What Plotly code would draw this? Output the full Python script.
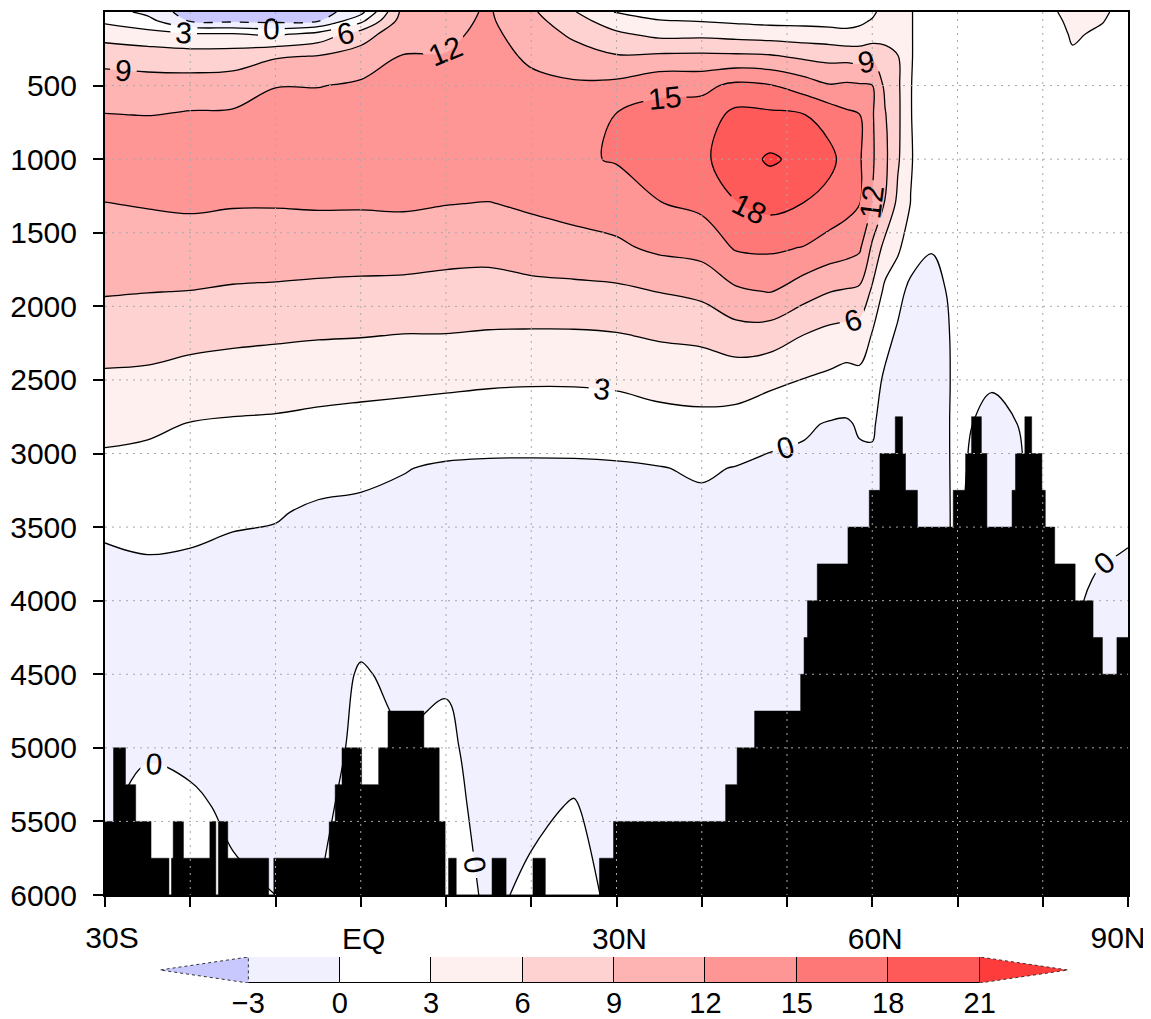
import numpy as np
import plotly.graph_objects as go

# ---------------- data ----------------
lats = [-30, -25, -20, -15, -10, -5, 0, 5, 10, 15, 20, 25, 30, 35, 40, 44, 48, 52,
        55, 57, 58.5, 60, 61.5, 63, 64.5, 67, 70, 74, 80, 83.5, 87, 90]
depths = [0, 60, 150, 300, 500, 700, 1000, 1300, 1600, 1900, 2200, 2500, 2800,
          3100, 3400, 3700, 4000, 4500, 5000, 5400, 6000]

# streamfunction profiles (Sv) at each latitude, values at `depths`
psi_30s = [1.5, 2.5, 4.7, 8.0, 10.3, 12.1, 13.8, 11.95, 10.6, 9.2, 7.4, 5.5, 3.8, 2.3, 0.9, -0.4, -0.9, -1.1, -0.8, -0.4, 0.0]
psi_25s = [-0.8, 1.0, 4.0, 7.6, 10.2, 11.95, 13.8, 12.2, 10.6, 9.05, 7.2, 5.4, 3.5, 2.1, 1.1, -0.05, -0.8, -1.1, -0.3, 0.8, 1.0]
psi_20s = [-4.5, -3.3, 3.4, 7.3, 10.3, 12.3, 14.0, 12.4, 10.7, 8.95, 6.9, 4.8, 2.9, 1.9, 0.85, -0.2, -0.8, -1.1, -0.4, 0.3, 1.0]
psi_15s = [-4.8, -3.6, 3.2, 7.5, 10.5, 12.4, 14.0, 12.2, 10.5, 8.7, 6.6, 4.5, 2.7, 1.5, 0.4, -0.5, -0.9, -1.1, -0.9, -0.3, 0.3]
psi_10s = [-5.0, -3.8, 2.5, 8.7, 11.9, 13.2, 14.2, 12.2, 10.4, 8.6, 6.4, 4.3, 2.6, 1.4, 0.2, -0.6, -1.0, -1.1, -0.9, -0.4, 0.0]
psi_05s = [-4.5, -3.2, 4.0, 9.1, 11.9, 13.3, 14.3, 12.3, 10.4, 8.4, 6.2, 4.1, 2.3, 1.0, -0.4, -0.8, -1.0, -1.1, -0.9, -0.5, 0.0]
psi_eq = [-1.0, 2.2, 7.5, 10.4, 12.4, 13.4, 14.3, 12.3, 10.3, 8.3, 6.1, 3.9, 2.1, 0.6, -0.5, -0.9, -1.0, 0.2, 0.5, 0.8, 1.0]
psi_05n = [10.0, 10.5, 11.2, 12.1, 13.0, 13.6, 14.4, 12.4, 10.3, 8.2, 5.9, 3.8, 1.8, 0.1, -0.6, -1.0, -1.1, -0.5, 0.2, 0.5, 1.0]
psi_10n = [11.0, 11.2, 11.5, 12.1, 13.0, 13.7, 14.4, 12.1, 10.0, 8.0, 5.9, 3.6, 1.6, -0.3, -0.8, -1.0, -1.1, -0.2, 0.4, 0.6, 1.0]
psi_15n = [12.3, 12.4, 12.6, 12.9, 13.4, 13.9, 14.5, 11.9, 9.9, 7.9, 5.7, 3.4, 1.4, -0.4, -0.8, -1.0, -1.1, -1.1, -0.9, -0.6, -0.3]
psi_20n = [9.5, 10.0, 10.8, 11.6, 12.6, 13.4, 14.3, 12.5, 10.4, 8.2, 5.6, 3.3, 1.3, -0.4, -0.8, -1.0, -1.1, -1.1, -0.9, -0.3, 0.3]
psi_25n = [6.2, 7.2, 8.4, 10.4, 12.4, 13.5, 14.6, 13.2, 10.8, 8.3, 5.6, 3.3, 1.4, -0.4, -0.8, -1.0, -1.1, -1.1, -0.6, 0.1, 0.8]
psi_30n = [2.8, 4.4, 6.5, 9.2, 12.8, 15.1, 15.2, 13.5, 11.5, 8.4, 5.8, 3.5, 1.5, -0.3, -0.8, -1.0, -1.1, -1.1, -1.0, -0.7, -0.5]
psi_35n = [1.5, 3.2, 5.2, 9.5, 14.25, 16.0, 16.8, 14.9, 12.6, 9.05, 6.3, 4.05, 1.95, -0.1, -0.7, -1.0, -1.1, -1.1, -1.0, -0.7, -0.5]
psi_40n = [1.2, 2.85, 5.25, 9.6, 14.25, 16.4, 17.4, 15.7, 13.1, 9.7, 6.6, 4.25, 2.2, 0.3, -0.6, -1.0, -1.1, -1.1, -1.0, -0.8, -0.5]
psi_44n = [0.8, 2.5, 4.9, 9.5, 15.7, 18.8, 19.6, 17.9, 15.3, 11.5, 7.6, 4.3, 1.95, -0.1, -0.7, -1.0, -1.1, -1.1, -1.0, -0.8, -0.5]
psi_48n = [0.5, 2.2, 4.6, 9.3, 15.2, 18.6, 21.4, 18.9, 15.5, 12.1, 7.4, 3.7, 0.9, -0.5, -0.9, -1.0, -1.1, -1.1, -1.0, -0.8, -0.5]
psi_52n = [0.5, 2.1, 4.4, 8.4, 13.6, 18.1, 20.2, 17.95, 14.9, 10.2, 5.9, 2.9, 0.35, -0.6, -0.9, -1.0, -1.1, -1.1, -1.0, -0.8, -0.5]
psi_55n = [0.8, 1.9, 4.2, 8.0, 12.2, 16.8, 18.8, 16.9, 13.75, 9.05, 5.0, 2.4, -0.2, -0.7, -0.9, -1.0, -1.1, -1.1, -1.0, -0.8, -0.5]
psi_57n = [1.5, 2.2, 3.6, 8.0, 12.5, 15.6, 16.8, 16.0, 13.2, 8.7, 4.7, 1.9, -0.3, -0.8, -0.9, -1.0, -1.1, -1.1, -1.0, -0.8, -0.5]
psi_58n = [1.8, 2.5, 3.8, 7.8, 12.3, 15.1, 15.4, 15.1, 12.5, 8.4, 4.4, 2.3, 0.3, -0.6, -0.8, -1.0, -1.1, -1.1, -1.0, -0.8, -0.5]
psi_60n = [2.5, 3.2, 4.2, 8.5, 12.05, 12.3, 12.4, 11.9, 8.5, 5.5, 2.8, 0.8, 0.2, -0.3, -0.6, -0.8, -1.0, -1.0, -1.0, -0.8, -0.5]
psi_61n = [4.0, 4.2, 4.5, 7.5, 8.4, 9.2, 9.6, 8.9, 5.0, 2.3, 0.6, -0.3, -0.6, -0.5, -0.5, -0.5, -0.5, -0.5, -0.5, -0.5, -0.5]
psi_63n = [4.0, 4.2, 4.5, 6.1, 6.5, 6.6, 6.4, 5.3, 3.6, 0.6, -0.3, -0.6, -0.6, -0.5, -0.5, -0.5, -0.5, -0.5, -0.5, -0.5, -0.5]
psi_64n = [3.2, 3.2, 3.2, 3.2, 3.1, 3.1, 3.2, 2.95, 1.0, -0.5, -0.7, -0.8, -0.7, -0.5, -0.5, -0.5, -0.5, -0.5, -0.5, -0.5, -0.5]
psi_67n = [1.0, 1.0, 1.0, 1.0, 1.0, 1.0, 1.0, 0.8, 0.1, -0.6, -0.9, -1.0, -0.9, -0.7, -0.5, -0.5, -0.5, -0.5, -0.5, -0.5, -0.5]
psi_70n = [1.0, 1.0, 1.0, 1.0, 1.0, 1.0, 1.0, 0.9, 0.8, 0.5, 0.4, 0.4, 0.4, 0.3, 0.2, 0.2, 0.2, 0.2, 0.2, 0.2, 0.2]
psi_74n = [1.0, 1.0, 1.0, 1.0, 1.0, 1.0, 1.0, 0.9, 0.8, 0.7, 0.6, 0.2, -0.5, -0.8, -0.8, -0.8, -0.8, -0.8, -0.8, -0.8, -0.8]
psi_80n = [2.0, 1.6, 1.3, 1.1, 1.0, 1.0, 1.0, 0.9, 0.8, 0.7, 0.7, 0.6, 0.5, 0.5, 0.5, 0.4, 0.3, 0.3, 0.3, 0.3, 0.3]
psi_83n = [4.0, 3.7, 3.3, 2.7, 2.0, 1.5, 1.2, 1.0, 0.9, 0.8, 0.7, 0.6, 0.5, 0.5, 0.5, 0.4, 0.3, 0.2, 0.2, 0.2, 0.2]
psi_87n = [3.4, 3.1, 2.6, 2.0, 1.5, 1.2, 1.0, 0.9, 0.8, 0.7, 0.6, 0.6, 0.5, 0.5, 0.5, 0.1, -0.5, -0.8, -0.8, -0.8, -0.8]
psi_90n = [2.0, 1.9, 1.7, 1.5, 1.3, 1.1, 1.0, 0.9, 0.8, 0.7, 0.6, 0.6, 0.5, 0.5, 0.4, -0.1, -0.5, -0.8, -0.8, -0.8, -0.8]

# bathymetry: step starts (latitude) and sea-floor depth of each step
bathy_lat = [-30.0, -29.0, -27.6, -26.4, -24.6, -22.5, -22.2, -22.0, -20.8, -17.7,
             -17.0, -16.7, -15.6, -10.8, -10.2, -3.7, -3.0, -2.2, 0.1, 2.1,
             3.2, 7.4, 9.2, 9.9, 10.3, 11.2, 15.4, 17.05, 20.2, 21.65,
             28.0, 29.65, 42.8, 44.15, 46.2, 51.6, 52.0, 52.4, 53.55, 57.15,
             59.65, 60.9, 62.7, 63.55, 63.9, 65.3, 69.5, 70.95, 71.65, 72.8,
             73.45, 76.4, 76.8, 77.9, 78.7, 79.9, 80.3, 81.4, 83.8, 85.9,
             87.0, 88.7]
bathy_depth = [5500, 5000, 5250, 5500, 5750, 6000, 5750, 5500, 5750, 5500,
               6000, 5500, 5750, 6000, 5750, 5500, 5250, 5000, 5250, 5000,
               4750, 5000, 5500, 6000, 5750, 6000, 5750, 6000, 5750, 6000,
               5750, 5500, 5250, 5000, 4750, 4500, 4250, 4000, 3750, 3500,
               3250, 3000, 2750, 3000, 3250, 3500, 3250, 3000, 2750, 3000,
               3500, 3250, 3000, 2750, 3000, 3250, 3500, 3750, 4000, 4250,
               4500, 4250]
bathy_end_lat = 90.0

# contour levels / colours
levels = [-3, 0, 3, 6, 9, 12, 15, 18, 21]
level_labels = ["\u22123", "0", "3", "6", "9", "12", "15", "18", "21"]
fill_colors = ["#c8c8ff", "#f0f0ff", "#ffffff", "#fff0f0", "#ffd2d2",
               "#ffb4b4", "#ff9696", "#ff7878", "#ff5a5a", "#ff3c3c"]

x_ticks = [-30, -20, -10, 0, 10, 20, 30, 40, 50, 60, 70, 80, 90]
x_ticklabels = ["", "", "", "EQ", "", "", "30N", "", "", "60N", "", "", ""]
x_edge_ticks = [-30, 90]
x_edge_labels = ["30S", "90N"]
y_ticks = [500, 1000, 1500, 2000, 2500, 3000, 3500, 4000, 4500, 5000, 5500, 6000]

# ---------------- figure ----------------
FONT = "Liberation Sans, Arial, sans-serif"
FSIZE = 30

profiles = [psi_30s, psi_25s, psi_20s, psi_15s, psi_10s, psi_05s, psi_eq, psi_05n,
            psi_10n, psi_15n, psi_20n, psi_25n, psi_30n, psi_35n, psi_40n, psi_44n,
            psi_48n, psi_52n, psi_55n, psi_57n, psi_58n, psi_60n, psi_61n, psi_63n,
            psi_64n, psi_67n, psi_70n, psi_74n, psi_80n, psi_83n, psi_87n, psi_90n]
z = np.array(profiles).T

nlev = len(levels)
colorscale = [[k / (nlev), c] for k, c in enumerate(fill_colors)]
step = levels[1] - levels[0]

fig = go.Figure()

# filled bands
fig.add_trace(go.Contour(
    x=lats, y=depths, z=z,
    contours=dict(start=levels[0], end=levels[-1], size=step, coloring="fill", showlines=False),
    colorscale=colorscale, showscale=False, line=dict(width=0, smoothing=1),
    hoverinfo="skip"))

# positive / zero contour lines with labels
fig.add_trace(go.Contour(
    x=lats, y=depths, z=z,
    contours=dict(start=0, end=levels[-1], size=step, coloring="none", showlabels=True,
                  labelfont=dict(family=FONT, size=FSIZE, color="black")),
    line=dict(color="black", width=1.3, smoothing=1),
    showscale=False, hoverinfo="skip"))

# negative contour lines dashed
fig.add_trace(go.Contour(
    x=lats, y=depths, z=z,
    contours=dict(start=-6, end=-3, size=step, coloring="none", showlabels=True,
                  labelfont=dict(family=FONT, size=FSIZE, color="black")),
    line=dict(color="black", width=1.3, dash="dash", smoothing=1),
    showscale=False, hoverinfo="skip"))

# bathymetry (black steps)
bx = list(bathy_lat) + [bathy_end_lat, bathy_end_lat, bathy_lat[0]]
by = list(bathy_depth) + [bathy_depth[-1], 6000, 6000]
fig.add_trace(go.Scatter(
    x=bx, y=by, mode="lines", line=dict(color="black", width=0.5, shape="hv"),
    fill="toself", fillcolor="black", hoverinfo="skip", showlegend=False))

# invisible anchors so the edge-label axes are drawn
for ax, xv in (("x3", x_edge_ticks[0]), ("x4", x_edge_ticks[1])):
    fig.add_trace(go.Scatter(x=[xv], y=[depths[-1]], xaxis=ax, yaxis="y", mode="markers",
                             marker=dict(size=1, opacity=0), hoverinfo="skip",
                             showlegend=False))

# colour bar (on its own axes)
mids = [(levels[i] + levels[i + 1]) / 2 for i in range(nlev - 1)]
fig.add_trace(go.Bar(
    x=mids, y=[1] * len(mids), base=0, width=step,
    marker=dict(color=fill_colors[1:-1], line=dict(color="black", width=1)),
    xaxis="x2", yaxis="y2", hoverinfo="skip", showlegend=False))
tri = 2.9
fig.add_trace(go.Scatter(
    x=[levels[0], levels[0] - tri, levels[0], levels[0]], y=[0, 0.5, 1, 0],
    fill="toself", fillcolor=fill_colors[0], mode="lines",
    line=dict(color="#333", width=1, dash="dot"),
    xaxis="x2", yaxis="y2", hoverinfo="skip", showlegend=False))
fig.add_trace(go.Scatter(
    x=[levels[-1], levels[-1] + tri, levels[-1], levels[-1]], y=[0, 0.5, 1, 0],
    fill="toself", fillcolor=fill_colors[-1], mode="lines",
    line=dict(color="#333", width=1, dash="dot"),
    xaxis="x2", yaxis="y2", hoverinfo="skip", showlegend=False))

# dotted grid drawn above the fills
shapes = []
for xv in x_ticks[1:-1]:
    shapes.append(dict(type="line", xref="x", yref="y", x0=xv, x1=xv, y0=0, y1=6000,
                       layer="above", line=dict(color="#a8a8a8", width=1, dash="2px,5px")))
for yv in y_ticks[:-1]:
    shapes.append(dict(type="line", xref="x", yref="y", x0=-30, x1=90, y0=yv, y1=yv,
                       layer="above", line=dict(color="#a8a8a8", width=1, dash="2px,5px")))

# page geometry (the browser's default 8px body margin shifts the figure)
OFF = 8
PAGE_W, PAGE_H = 1151, 1019
W, H = PAGE_W - OFF, PAGE_H - OFF
plot_l, plot_r, plot_t, plot_b = 105, 1128, 12, 895      # page px
cb_l, cb_r, cb_t, cb_b = 160, 1068, 957, 983            # page px
ml = plot_l - OFF
mr = (OFF + W) - plot_r
mt = plot_t - OFF
mb = 30
paper_bottom = OFF + H - mb
ph = H - mt - mb
pw = W - ml - mr
main_bottom = (paper_bottom - plot_b) / ph
cb_lo = (paper_bottom - cb_b) / ph
cb_hi = (paper_bottom - cb_t) / ph
cb_x0 = (cb_l - plot_l) / pw
cb_x1 = (cb_r - plot_l) / pw

edge_axis = dict(range=[-30, 90], anchor="y", overlaying="x", side="bottom",
                 ticks="outside", ticklen=10, tickcolor="rgba(0,0,0,0)",
                 showgrid=False, zeroline=False, showline=False,
                 ticklabelstandoff=6, ticklabeloverflow="allow", automargin=False,
                 tickfont=dict(family=FONT, size=FSIZE))

fig.update_layout(
    template="none",
    width=W, height=H, margin=dict(l=ml, r=mr, t=mt, b=mb, autoexpand=False),
    paper_bgcolor="white", plot_bgcolor="white",
    font=dict(family=FONT, size=FSIZE, color="black"),
    showlegend=False, shapes=shapes, bargap=0,
    xaxis=dict(range=[-30, 90], domain=[0, 1], anchor="y", tickvals=x_ticks,
               ticktext=x_ticklabels, ticks="outside", ticklen=10, tickwidth=1.5,
               tickcolor="black", showgrid=False, zeroline=False, showline=True,
               linecolor="black", linewidth=2, mirror=True, ticklabelstandoff=6,
               ticklabelshift=3, ticklabeloverflow="allow",
               automargin=False, tickfont=dict(family=FONT, size=FSIZE)),
    xaxis3=dict(edge_axis, tickvals=x_edge_ticks[:1], ticktext=x_edge_labels[:1],
                ticklabelshift=7),
    xaxis4=dict(edge_axis, tickvals=x_edge_ticks[1:], ticktext=x_edge_labels[1:],
                ticklabelshift=-10),
    yaxis=dict(range=[6000, 0], domain=[main_bottom, 1], anchor="x", tickvals=y_ticks,
               ticktext=[str(v) for v in y_ticks], ticks="outside", ticklen=10,
               tickwidth=1.5, tickcolor="black", showgrid=False, zeroline=False,
               showline=True, linecolor="black", linewidth=2, mirror=True,
               ticklabelstandoff=10, ticklabeloverflow="allow", automargin=False,
               tickfont=dict(family=FONT, size=FSIZE)),
    xaxis2=dict(range=[levels[0] - tri, levels[-1] + tri], domain=[cb_x0, cb_x1],
                anchor="y2", tickvals=levels, ticktext=level_labels, ticks="",
                showgrid=False, zeroline=False, showline=False, ticklabelstandoff=0,
                ticklabeloverflow="allow",
                automargin=False, tickfont=dict(family=FONT, size=29)),
    yaxis2=dict(range=[0, 1], domain=[cb_lo, cb_hi], anchor="x2", visible=False,
                fixedrange=True, automargin=False),
)

fig.write_html("out.html")
